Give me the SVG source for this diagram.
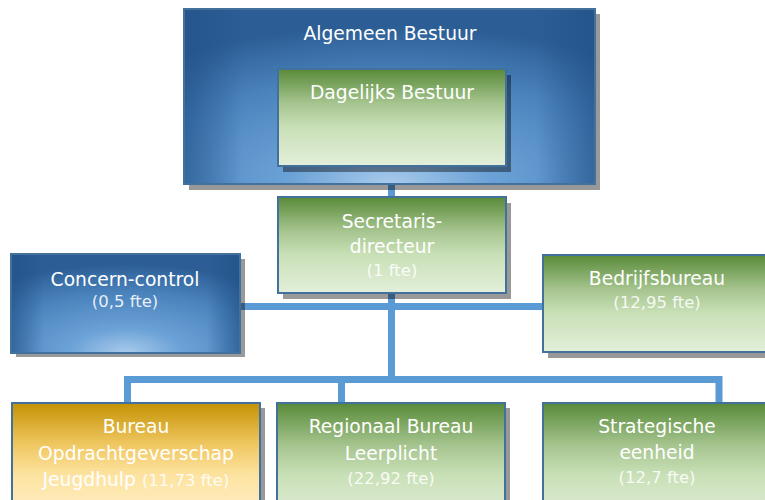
<svg xmlns="http://www.w3.org/2000/svg" width="765" height="500" viewBox="0 0 765 500">
<defs>
<radialGradient id="gBlue" cx="0.5" cy="1" r="0.9" fx="0.5" fy="1">
<stop offset="0" stop-color="#a9cbec"/>
<stop offset="0.28" stop-color="#6aa1d6"/>
<stop offset="0.68" stop-color="#4a82bc"/>
<stop offset="1" stop-color="#2c5e95"/>
</radialGradient>
<linearGradient id="gEdge" x1="0" y1="0" x2="1" y2="0">
<stop offset="0" stop-color="#1f4f85" stop-opacity="0.6"/>
<stop offset="0.14" stop-color="#1f4f85" stop-opacity="0"/>
<stop offset="0.86" stop-color="#1f4f85" stop-opacity="0"/>
<stop offset="1" stop-color="#1f4f85" stop-opacity="0.6"/>
</linearGradient>
<linearGradient id="gGreen" x1="0" y1="0" x2="0" y2="1">
<stop offset="0" stop-color="#588a38"/>
<stop offset="0.35" stop-color="#a5c48e"/>
<stop offset="0.6" stop-color="#c9e0b7"/>
<stop offset="1" stop-color="#e3efda"/>
</linearGradient>
<linearGradient id="gOrange" x1="0" y1="0" x2="0" y2="1">
<stop offset="0" stop-color="#c49203"/>
<stop offset="0.35" stop-color="#f0c862"/>
<stop offset="0.6" stop-color="#fde3a0"/>
<stop offset="1" stop-color="#fff1cc"/>
</linearGradient>
</defs>
<style>
.sh{fill:#000;fill-opacity:0.4}
.box{stroke:#41719c;stroke-width:2}
.blue{fill:url(#gBlue)}
.edge{fill:url(#gEdge)}
.green{fill:url(#gGreen)}
.orange{fill:url(#gOrange)}
.conn{stroke:#5b9bd5;stroke-width:7;fill:none}
text{font-family:"DejaVu Sans","Verdana",sans-serif;fill:#ffffff;text-anchor:middle}
.t{font-size:18.7px}
.f{font-size:16.5px;fill-opacity:0.88}
</style>
<rect width="765" height="500" fill="#ffffff"/>
<g id="connectors">
<line class="conn" x1="391.5" y1="184" x2="391.5" y2="197"/>
<line class="conn" x1="391.5" y1="293" x2="391.5" y2="380"/>
<line class="conn" x1="240" y1="306.5" x2="543" y2="306.5"/>
<polyline class="conn" points="127.5,403 127.5,379.5 719,379.5 719,403"/>
<line class="conn" x1="341.5" y1="379.5" x2="341.5" y2="403"/>
</g>
<g id="algemeen-bestuur">
<rect class="sh" x="189" y="14" width="411" height="176"/>
<rect class="box blue" x="184" y="9" width="411" height="175"/>
<rect class="edge" x="185" y="10" width="409" height="173"/>
<text class="t" x="390" y="40">Algemeen Bestuur</text>
</g>
<g id="dagelijks-bestuur">
<rect class="sh" x="283" y="75" width="228" height="97"/>
<rect class="box green" x="278" y="69" width="228" height="97"/>
<text class="t" x="392" y="99">Dagelijks Bestuur</text>
</g>
<g id="secretaris-directeur">
<rect class="sh" x="283" y="203" width="228" height="96"/>
<rect class="box green" x="278" y="197" width="228" height="96"/>
<text class="t" x="392" y="228">Secretaris-</text>
<text class="t" x="392" y="253">directeur</text>
<text class="f" x="392" y="276">(1 fte)</text>
</g>
<g id="concern-control">
<rect class="sh" x="16" y="259" width="229" height="98"/>
<rect class="box blue" x="11" y="254" width="229" height="99"/>
<rect class="edge" x="12" y="255" width="227" height="97"/>
<text class="t" x="125" y="286">Concern-control</text>
<text class="f" x="125" y="307">(0,5 fte)</text>
</g>
<g id="bedrijfsbureau">
<rect class="sh" x="548" y="260" width="228" height="98"/>
<rect class="box green" x="543" y="255" width="228" height="97"/>
<text class="t" x="657" y="285">Bedrijfsbureau</text>
<text class="f" x="657" y="308">(12,95 fte)</text>
</g>
<g id="bureau-opdrachtgeverschap">
<rect class="sh" x="17" y="408" width="248" height="120"/>
<rect class="box orange" x="12" y="403" width="248" height="120"/>
<text class="t" x="136" y="433">Bureau</text>
<text class="t" x="136" y="460">Opdrachtgeverschap</text>
<text class="t" x="136" y="486">Jeugdhulp <tspan class="f">(11,73 fte)</tspan></text>
</g>
<g id="regionaal-bureau">
<rect class="sh" x="282" y="408" width="228" height="120"/>
<rect class="box green" x="277" y="403" width="228" height="120"/>
<text class="t" x="391" y="433">Regionaal Bureau</text>
<text class="t" x="391" y="460">Leerplicht</text>
<text class="f" x="391" y="484">(22,92 fte)</text>
</g>
<g id="strategische-eenheid">
<rect class="sh" x="548" y="408" width="228" height="120"/>
<rect class="box green" x="543" y="403" width="228" height="120"/>
<text class="t" x="657" y="433">Strategische</text>
<text class="t" x="657" y="459">eenheid</text>
<text class="f" x="657" y="483">(12,7 fte)</text>
</g>
</svg>
